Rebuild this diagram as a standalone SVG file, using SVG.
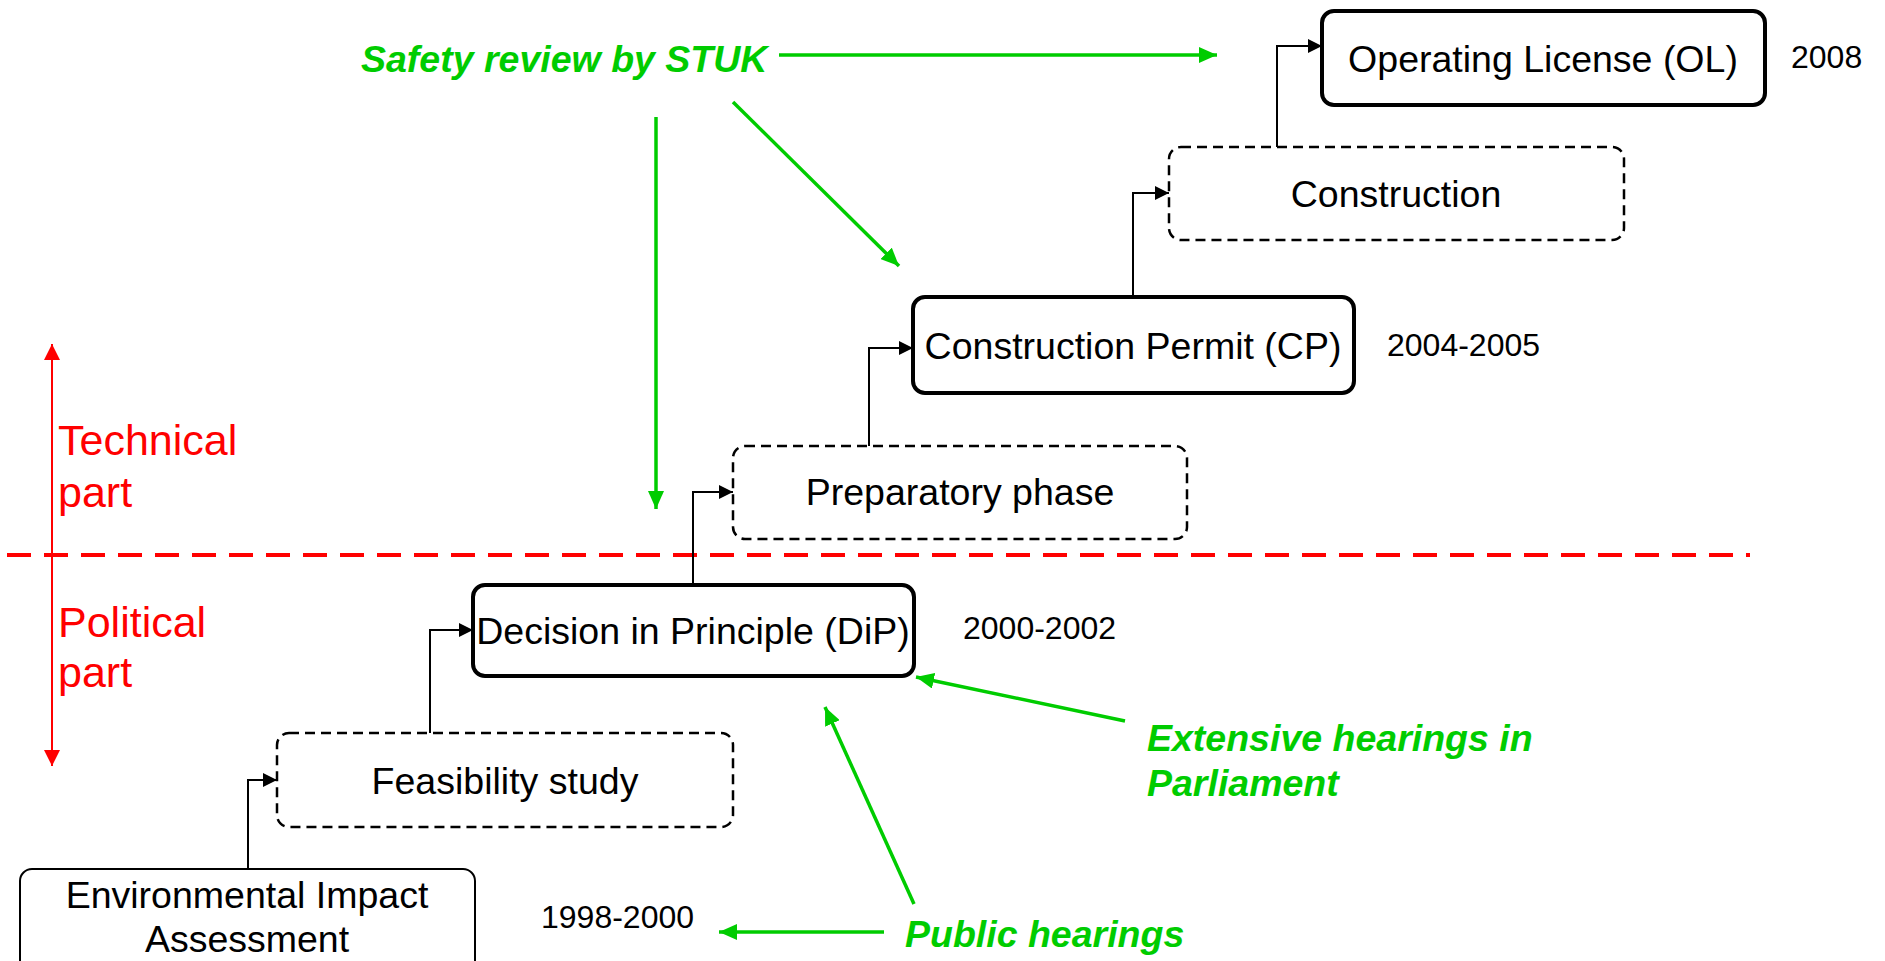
<svg xmlns="http://www.w3.org/2000/svg" width="1885" height="961" viewBox="0 0 1885 961">
<style>
.box{fill:#fff;stroke:#000}
.thick{stroke-width:4}
.thin{stroke-width:2}
.dash{stroke-width:2.5;stroke-dasharray:10 6}
.lbl{font-family:"Liberation Sans",Arial,sans-serif;font-size:37.5px;fill:#000;text-anchor:middle}
.date{font-family:"Liberation Sans",Arial,sans-serif;font-size:32px;fill:#000}
.green{font-family:"Liberation Sans",Arial,sans-serif;font-size:37.5px;font-weight:bold;font-style:italic;fill:#00CC00}
.red{font-family:"Liberation Sans",Arial,sans-serif;font-size:43px;fill:#FF0000}
.conn{fill:none;stroke:#000;stroke-width:2}
.garr{fill:none;stroke:#00CC00;stroke-width:3.5}
</style>
<defs>
<marker id="ab" markerUnits="userSpaceOnUse" markerWidth="14" markerHeight="14" viewBox="0 0 14 14" refX="14" refY="7" orient="auto"><path d="M0,0 L14,7 L0,14 Z" fill="#000"/></marker>
<marker id="ag" markerUnits="userSpaceOnUse" markerWidth="18" markerHeight="16" viewBox="0 0 18 16" refX="18" refY="8" orient="auto"><path d="M0,0 L18,8 L0,16 Z" fill="#00CC00"/></marker>
<marker id="ar" markerUnits="userSpaceOnUse" markerWidth="16" markerHeight="16" viewBox="0 0 16 16" refX="16" refY="8" orient="auto"><path d="M0,0 L16,8 L0,16 Z" fill="#FF0000"/></marker>
</defs>

<g id="divider">
<line x1="7" y1="555" x2="1750" y2="555" stroke="#FF0000" stroke-width="4" stroke-dasharray="24 13"/>
<line x1="52" y1="555" x2="52" y2="344" stroke="#FF0000" stroke-width="2" marker-end="url(#ar)"/>
<line x1="52" y1="555" x2="52" y2="766" stroke="#FF0000" stroke-width="2" marker-end="url(#ar)"/>
<text class="red" x="58" y="455">Technical</text>
<text class="red" x="58" y="507">part</text>
<text class="red" x="58" y="637">Political</text>
<text class="red" x="58" y="687">part</text>
</g>

<g id="connectors">
<path class="conn" d="M248,869 V780 H277" marker-end="url(#ab)"/>
<path class="conn" d="M430,733 V630 H473" marker-end="url(#ab)"/>
<path class="conn" d="M693,585 V492 H733" marker-end="url(#ab)"/>
<path class="conn" d="M869,446 V348 H913" marker-end="url(#ab)"/>
<path class="conn" d="M1133,297 V193 H1169" marker-end="url(#ab)"/>
<path class="conn" d="M1277,147 V46 H1322" marker-end="url(#ab)"/>
<line class="garr" x1="779" y1="55" x2="1217" y2="55" marker-end="url(#ag)"/>
<line class="garr" x1="656" y1="117" x2="656" y2="509" marker-end="url(#ag)"/>
<line class="garr" x1="733" y1="102" x2="899" y2="266" marker-end="url(#ag)"/>
<line class="garr" x1="1125" y1="721" x2="916" y2="677" marker-end="url(#ag)"/>
<line class="garr" x1="914" y1="904" x2="825" y2="707" marker-end="url(#ag)"/>
<line class="garr" x1="884" y1="932" x2="719" y2="932" marker-end="url(#ag)"/>
</g>

<g id="eia">
<rect class="box thin" x="20" y="869" width="455" height="110" rx="12"/>
<text class="lbl" x="247" y="908">Environmental Impact</text>
<text class="lbl" x="247" y="952">Assessment</text>
</g>
<g id="feasibility">
<rect class="box dash" x="277" y="733" width="456" height="94" rx="12"/>
<text class="lbl" x="505" y="794">Feasibility study</text>
</g>
<g id="dip">
<rect class="box thick" x="473" y="585" width="441" height="91" rx="12"/>
<text class="lbl" x="693" y="644">Decision in Principle (DiP)</text>
</g>
<g id="prep">
<rect class="box dash" x="733" y="446" width="454" height="93" rx="12"/>
<text class="lbl" x="960" y="505">Preparatory phase</text>
</g>
<g id="cp">
<rect class="box thick" x="913" y="297" width="441" height="96" rx="12"/>
<text class="lbl" x="1133" y="359">Construction Permit (CP)</text>
</g>
<g id="construction">
<rect class="box dash" x="1169" y="147" width="455" height="93" rx="12"/>
<text class="lbl" x="1396" y="207">Construction</text>
</g>
<g id="ol">
<rect class="box thick" x="1322" y="11" width="443" height="94" rx="12"/>
<text class="lbl" x="1543" y="72">Operating License (OL)</text>
</g>

<g id="dates">
<text class="date" x="541" y="928">1998-2000</text>
<text class="date" x="963" y="639">2000-2002</text>
<text class="date" x="1387" y="356">2004-2005</text>
<text class="date" x="1791" y="68">2008</text>
</g>

<g id="annotations">
<text class="green" x="361" y="72">Safety review by STUK</text>
<text class="green" x="1147" y="751">Extensive hearings in</text>
<text class="green" x="1147" y="796">Parliament</text>
<text class="green" x="905" y="947">Public hearings</text>
</g>
</svg>
